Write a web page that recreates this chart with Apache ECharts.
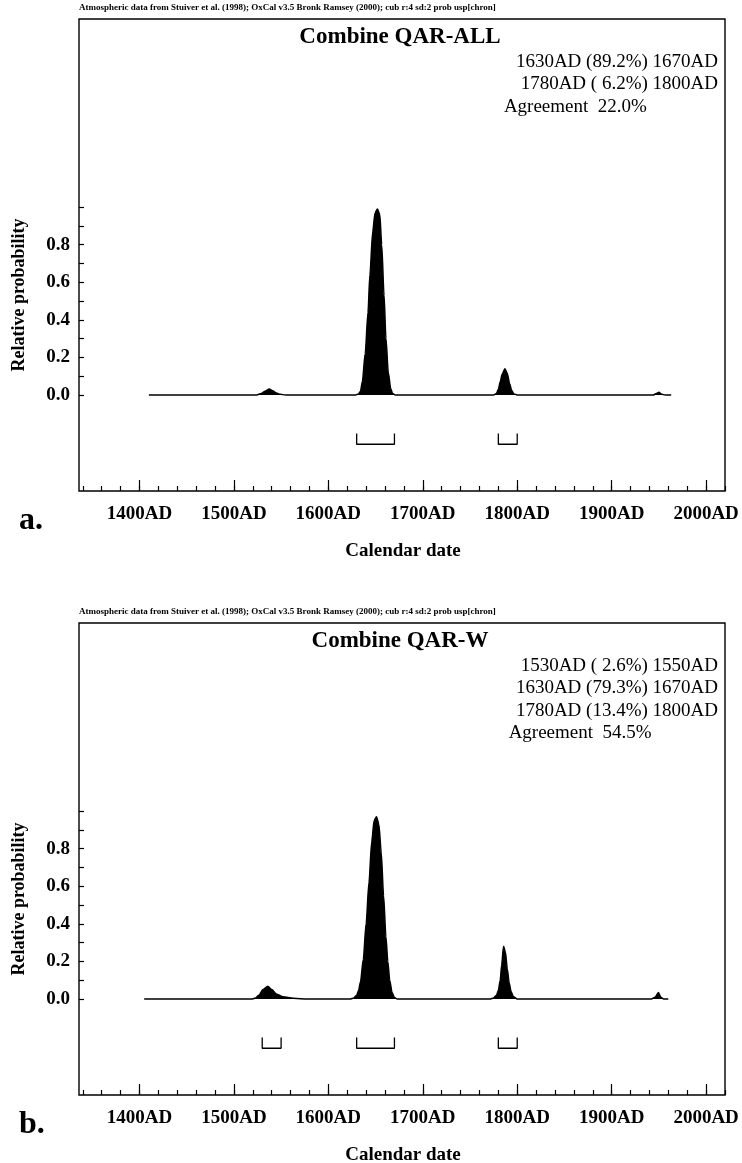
<!DOCTYPE html>
<html>
<head>
<meta charset="utf-8">
<script src="https://cdn.jsdelivr.net/npm/echarts@6/dist/echarts.min.js"></script>
<style>
  html, body { margin: 0; padding: 0; background: #ffffff; }
  #chart { width: 742px; height: 1163px; }
</style>
</head>
<body>
<div id="chart"></div>
<script>
// ---- Panel a: Combine QAR-ALL ----
const yearsA = [1410,
  1524, 1529, 1533, 1537.5, 1541, 1545, 1549, 1555,
  1629, 1632, 1634, 1636, 1639, 1642, 1644, 1647, 1649.5, 1652, 1654.5, 1656.5, 1659, 1661, 1663.5, 1666, 1668, 1671,
  1775, 1778, 1780, 1782, 1784, 1787, 1789.5, 1792, 1794, 1796.5, 1800,
  1944, 1947.5, 1950, 1953, 1957, 1963];
const probA = [0,
  0, 0.008, 0.02, 0.032, 0.022, 0.011, 0.004, 0,
  0, 0.006, 0.02, 0.07, 0.22, 0.44, 0.64, 0.87, 0.97, 0.99, 0.96, 0.80, 0.53, 0.30, 0.12, 0.035, 0.008, 0,
  0, 0.008, 0.03, 0.07, 0.11, 0.14, 0.115, 0.06, 0.025, 0.006, 0,
  0, 0.008, 0.014, 0.004, 0, 0];
const rangesA = [[1630, 1670], [1780, 1800]];
const titleA = 'Combine QAR-ALL';
const linesA = ['1630AD (89.2%) 1670AD', '1780AD ( 6.2%) 1800AD'];
const agreementA = 'Agreement  22.0%';

// ---- Panel b: Combine QAR-W ----
const yearsB = [1405,
  1519, 1523, 1526, 1531, 1536, 1540, 1545, 1552, 1563, 1578,
  1623, 1627, 1630, 1632, 1634, 1637, 1640, 1643, 1646, 1648.5, 1651, 1653.5, 1656, 1658.5, 1661, 1663, 1665, 1667.5, 1670, 1673,
  1771, 1775, 1778, 1780, 1782, 1783.5, 1785.5, 1787.5, 1789.5, 1791.5, 1793.5, 1796, 1800,
  1942, 1946, 1949.5, 1952, 1955, 1960];
const probB = [0,
  0, 0.006, 0.018, 0.05, 0.068, 0.05, 0.027, 0.012, 0.004, 0,
  0, 0.006, 0.02, 0.045, 0.09, 0.21, 0.40, 0.62, 0.84, 0.95, 0.97, 0.93, 0.78, 0.55, 0.33, 0.20, 0.10, 0.035, 0.008, 0,
  0, 0.006, 0.02, 0.045, 0.10, 0.18, 0.28, 0.25, 0.16, 0.085, 0.04, 0.012, 0,
  0, 0.01, 0.035, 0.01, 0, 0];
const rangesB = [[1530, 1550], [1630, 1670], [1780, 1800]];
const titleB = 'Combine QAR-W';
const linesB = ['1530AD ( 2.6%) 1550AD', '1630AD (79.3%) 1670AD', '1780AD (13.4%) 1800AD'];
const agreementB = 'Agreement  54.5%';

// ---- Shared axis ticks and labels ----
const yearLabels = [1400, 1500, 1600, 1700, 1800, 1900, 2000];
const probLabels = [0, 0.2, 0.4, 0.6, 0.8];
const headerText = 'Atmospheric data from Stuiver et al. (1998); OxCal v3.5 Bronk Ramsey (2000); cub r:4 sd:2 prob usp[chron]';
const xName = 'Calendar date';
const yName = 'Relative probability';
const panelLetters = ['a.', 'b.'];

const minorYears = [];
for (let y = 1340; y <= 2020; y += 20) minorYears.push(y);
const probTicks = [];
for (let i = 0; i <= 10; i++) probTicks.push(i / 10);

// ---- Layout ----
const SERIF = '"Liberation Serif", "Times New Roman", serif';
const X_MIN = 1336, X_MAX = 2020;
const Y_MIN = -0.5106, Y_MAX = 2.0;
const GRID_LEFT = 79, GRID_W = 646, GRID_H = 472;
const panelTops = [19, 623];
const BRACKET_TOP = -0.205, BRACKET_BOTTOM = -0.262;
const TEXT_RIGHT = 718;
const LINE_FONT = '19px ' + SERIF;

const measureCtx = document.createElement('canvas').getContext('2d');
function textWidth(str, font) {
  measureCtx.font = font;
  return measureCtx.measureText(str).width;
}

const chart = echarts.init(document.getElementById('chart'), null, { renderer: 'canvas' });

const grids = [], xAxes = [], yAxes = [], series = [], graphics = [];
const panels = [
  { years: yearsA, prob: probA, ranges: rangesA, title: titleA, lines: linesA, agreement: agreementA },
  { years: yearsB, prob: probB, ranges: rangesB, title: titleB, lines: linesB, agreement: agreementB }
];

const tickStyle = { color: '#000', width: 1.2 };
const labelFont = { color: '#000', fontFamily: SERIF, fontWeight: 'bold', fontSize: 19 };

panels.forEach((p, i) => {
  const top = panelTops[i];
  grids.push({
    left: GRID_LEFT, top: top, width: GRID_W, height: GRID_H,
    show: true, borderColor: '#000', borderWidth: 1.4, backgroundColor: 'transparent',
    containLabel: false, outerBoundsMode: 'none'
  });
  // minor year ticks (every 20 years)
  xAxes.push({
    gridIndex: i, type: 'value', min: X_MIN, max: X_MAX, position: 'bottom',
    axisLine: { show: false, onZero: false }, splitLine: { show: false },
    axisTick: { show: true, inside: true, length: 5, customValues: minorYears, lineStyle: tickStyle },
    axisLabel: { show: false }
  });
  // major year ticks (every century) with labels
  xAxes.push({
    gridIndex: i, type: 'value', min: X_MIN, max: X_MAX, position: 'bottom',
    axisLine: { show: false, onZero: false }, splitLine: { show: false },
    axisTick: { show: true, inside: true, length: 11, customValues: yearLabels, lineStyle: tickStyle },
    axisLabel: Object.assign({ show: true, customValues: yearLabels, formatter: v => v + 'AD', margin: 14 }, labelFont)
  });
  yAxes.push({
    gridIndex: i, type: 'value', min: Y_MIN, max: Y_MAX, position: 'left',
    axisLine: { show: false, onZero: false }, splitLine: { show: false },
    axisTick: { show: true, inside: true, length: 5, customValues: probTicks, lineStyle: tickStyle },
    axisLabel: Object.assign({ show: true, customValues: probLabels, formatter: v => v.toFixed(1), margin: 9 }, labelFont)
  });

  // probability distribution
  series.push({
    type: 'line', xAxisIndex: i * 2, yAxisIndex: i,
    data: p.years.map((y, k) => [y, p.prob[k]]),
    symbol: 'none', showSymbol: false, smooth: 0.25, smoothMonotone: 'x',
    lineStyle: { color: '#000', width: 1.5 },
    areaStyle: { color: '#000', opacity: 1, origin: 0 },
    silent: true, z: 3
  });
  // highest-probability ranges as brackets under the curve
  p.ranges.forEach(r => {
    series.push({
      type: 'line', xAxisIndex: i * 2, yAxisIndex: i,
      data: [[r[0], BRACKET_TOP], [r[0], BRACKET_BOTTOM], [r[1], BRACKET_BOTTOM], [r[1], BRACKET_TOP]],
      symbol: 'none', showSymbol: false,
      lineStyle: { color: '#000', width: 1.3 }, silent: true, z: 3
    });
  });

  // header, title and range text
  graphics.push({
    type: 'text', x: GRID_LEFT, y: top - 11,
    style: { text: headerText, font: 'bold 9px ' + SERIF, fill: '#000', align: 'left', verticalAlign: 'middle' }
  });
  graphics.push({
    type: 'text', x: 400, y: top + 18,
    style: { text: p.title, font: 'bold 23px ' + SERIF, fill: '#000', align: 'center', verticalAlign: 'middle' }
  });
  p.lines.forEach((t, k) => {
    graphics.push({
      type: 'text', x: TEXT_RIGHT, y: top + 43 + k * 22.5,
      style: { text: t, font: LINE_FONT, fill: '#000', align: 'right', verticalAlign: 'middle' }
    });
  });
  const lineW = textWidth(p.lines[0], LINE_FONT);
  graphics.push({
    type: 'text', x: TEXT_RIGHT - lineW - 12, y: top + 43 + p.lines.length * 22.5,
    style: { text: p.agreement, font: LINE_FONT, fill: '#000', align: 'left', verticalAlign: 'middle' }
  });

  // axis names and panel letter
  graphics.push({
    type: 'text', x: 19, y: top + 276, rotation: Math.PI / 2,
    style: { text: yName, font: 'bold 18px ' + SERIF, fill: '#000', align: 'center', verticalAlign: 'middle' }
  });
  graphics.push({
    type: 'text', x: 403, y: top + 532,
    style: { text: xName, font: 'bold 19px ' + SERIF, fill: '#000', align: 'center', verticalAlign: 'middle' }
  });
  graphics.push({
    type: 'text', x: 19, y: top + 502,
    style: { text: panelLetters[i], font: 'bold 32px ' + SERIF, fill: '#000', align: 'left', verticalAlign: 'middle' }
  });
});

chart.setOption({
  animation: false,
  backgroundColor: '#ffffff',
  grid: grids,
  xAxis: xAxes,
  yAxis: yAxes,
  series: series,
  graphic: graphics
});
</script>
</body>
</html>
